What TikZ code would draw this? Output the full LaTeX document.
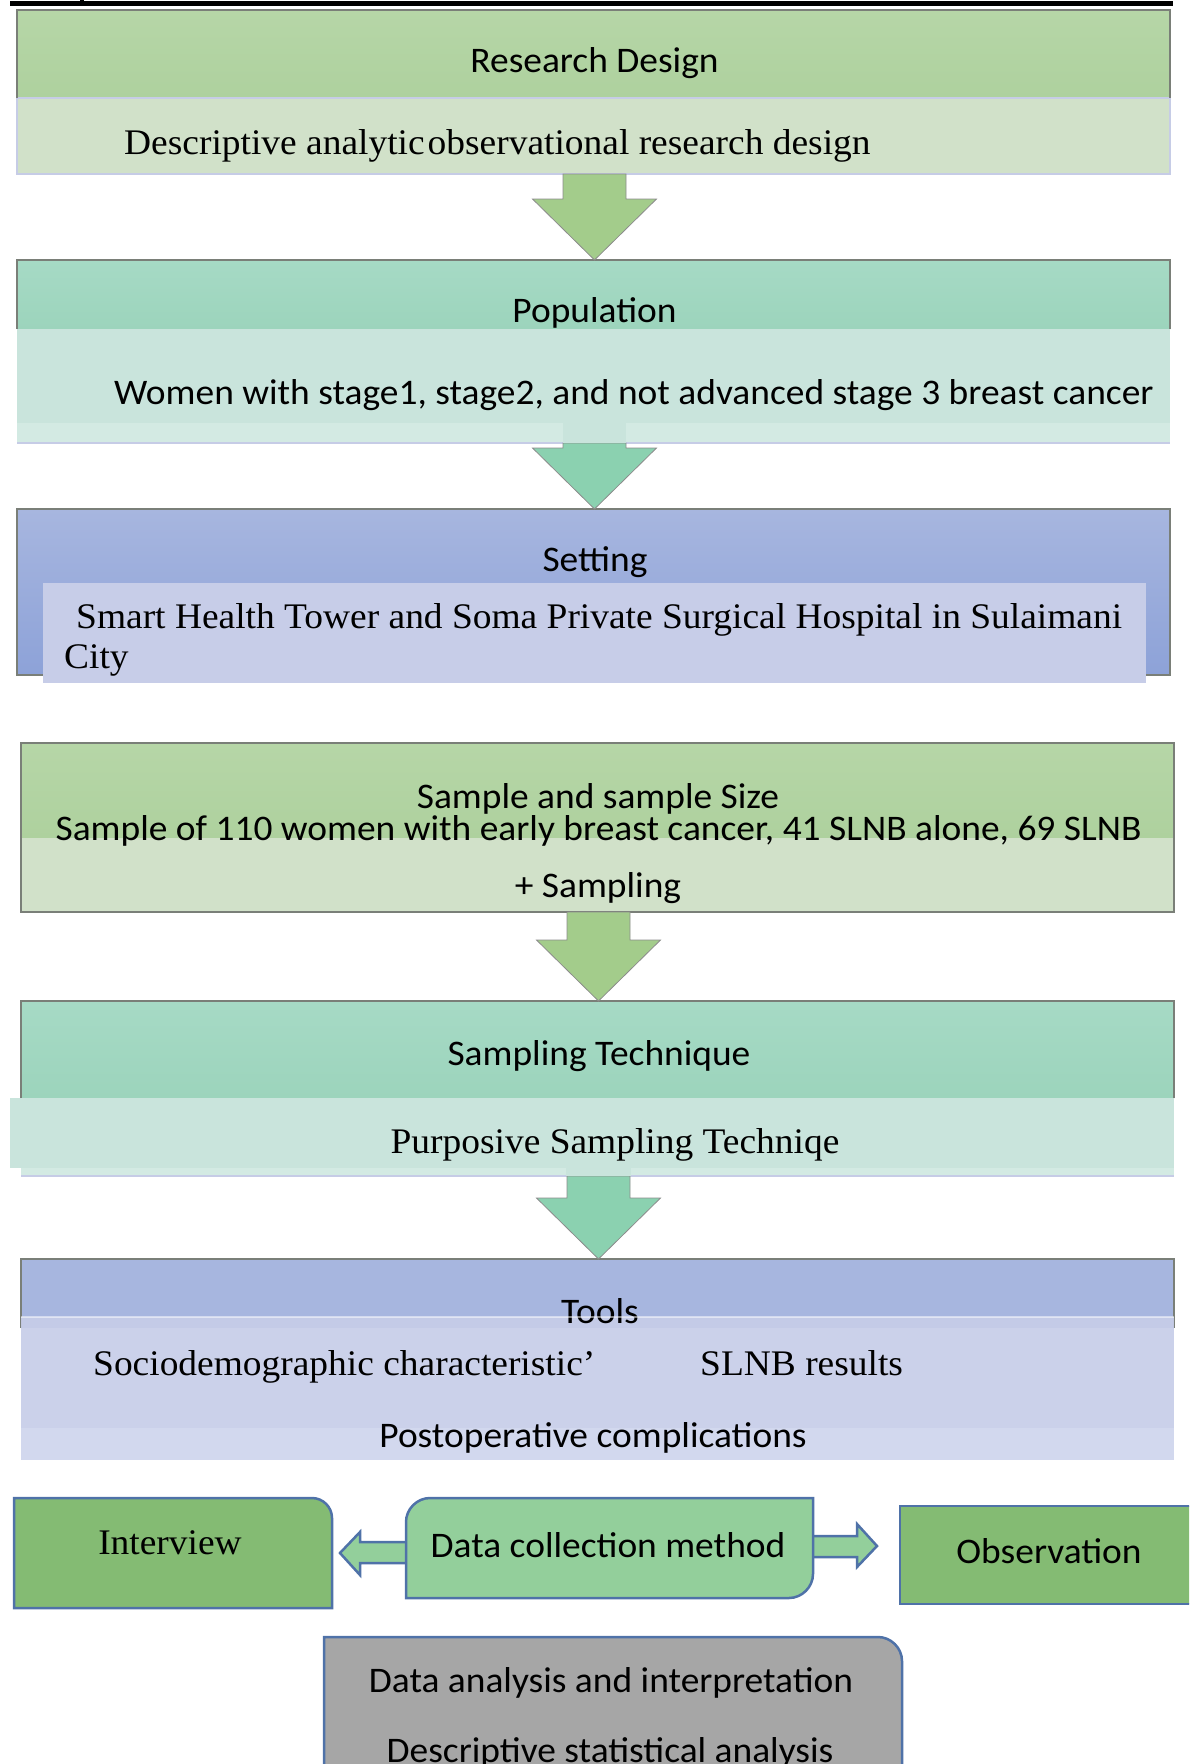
\documentclass[tikz,border=0pt]{standalone}
\usepackage{fontspec}
\setmainfont[FakeStretch=1.04]{Liberation Serif}
\newfontfamily\calfont[FakeStretch=1.04]{Carlito}
\usetikzlibrary{calc}

\definecolor{hdrgreenA}{HTML}{B6D6A7}
\definecolor{hdrgreenB}{HTML}{AED19E}
\definecolor{subgreen}{HTML}{D1E1C9}
\definecolor{arrgreen}{HTML}{A3CC8B}
\definecolor{hdrmintA}{HTML}{A6DAC5}
\definecolor{hdrmintB}{HTML}{9CD4BC}
\definecolor{submint}{HTML}{C9E4DC}
\definecolor{stripmint}{HTML}{D3EAE3}
\definecolor{arrmint}{HTML}{8BD1B0}
\definecolor{hdrblueA}{HTML}{A7B6DF}
\definecolor{hdrblueB}{HTML}{8DA2D8}
\definecolor{sublav}{HTML}{C7CDE8}
\definecolor{striplav}{HTML}{D2D8EE}
\definecolor{edgegray}{HTML}{7A7F78}
\definecolor{edgelav}{HTML}{C6CCE6}
\definecolor{boxgreen}{HTML}{84BB73}
\definecolor{boxlight}{HTML}{93CF9B}
\definecolor{boxgray}{HTML}{A6A6A6}
\definecolor{edgeblue}{HTML}{4F72A8}

% a plain panel given by its top-left corner, width and height
\newcommand\panelbox[6]{%
  \node[panel, minimum width=#4, minimum height=#5, #6] (#1) at (#2,#3) {};}

% a downward block arrow from the bottom of one panel to the top of the next
\newcommand\blockdown[4]{%
  \filldraw[#4, blk] let \p1=(#1.south), \p2=(#2.north) in
    (#3-31.5,\y1) -- (#3+31.5,\y1) -- (#3+31.5,\y2+61pt) -- (#3+62,\y2+61pt)
    -- (#3,\y2) -- (#3-62,\y2+61pt) -- (#3-31.5,\y2+61pt) -- cycle;}

\begin{document}
\begin{tikzpicture}[x=1pt,y=-1pt,
  panel/.style={inner sep=0pt, outer sep=0pt, anchor=north west, draw=none},
  cal/.style={font=\calfont\fontsize{36}{40}\selectfont, inner sep=0pt},
  tms/.style={font=\fontsize{36}{40}\selectfont, inner sep=0pt},
  hedge/.style={draw=edgegray, line width=1.5pt},
  ledge/.style={draw=edgelav, line width=1.5pt},
  bedge/.style={draw=edgeblue, line width=2.5pt},
  blk/.style={draw=black!45, line width=0.8pt},
]
\useasboundingbox (0,0) rectangle (1189,1764);
\clip (0,0) rectangle (1189,1764);

% rule at the head of the page
\fill[black] (10,1) rectangle (1173,6);
\fill[black] (80,0) rectangle (84,4);

% ---------- Research design ----------
\panelbox{rdh}{17}{10}{1153}{88}{top color=hdrgreenA, bottom color=hdrgreenB}
\panelbox{rds}{17}{98}{1153}{76}{fill=subgreen}
\draw[ledge] (rds.north west) rectangle (rds.south east);
\draw[hedge] (rdh.south west) -- (rdh.north west) -- (rdh.north east) -- (rdh.south east);
\node[cal, anchor=base] (trd) at (594.5,72.7) {Research Design};
\node[tms, anchor=base west] (trds) at (124,154) {Descriptive analytic\hspace{3pt}observational research design};

% ---------- Population ----------
\panelbox{poh}{17}{260}{1153}{69}{top color=hdrmintA, bottom color=hdrmintB}
\panelbox{pos}{17}{329}{1153}{94}{fill=submint}
\panelbox{pot}{17}{423}{1153}{20}{fill=stripmint}
\draw[hedge] (poh.south west) -- (poh.north west) -- (poh.north east) -- (poh.south east);
\draw[ledge] (pot.south west) -- (pot.south east);
\node[cal, anchor=base] (tpo) at (594.5,322.7) {Population};
\node[cal, anchor=base west] (tpos) at (114,404) {Women with stage1, stage2, and not advanced stage 3 breast cancer};

% ---------- Setting ----------
\panelbox{seh}{17}{509}{1153}{166}{top color=hdrblueA, bottom color=hdrblueB}
\draw[hedge] (seh.north west) rectangle (seh.south east);
\panelbox{ses}{43}{583}{1103}{100}{fill=sublav}
\node[cal, anchor=base] (tse) at (595,571.7) {Setting};
\node[tms, anchor=base west] (tses) at (76,628) {Smart Health Tower and Soma Private Surgical Hospital in Sulaimani};
\node[tms, anchor=base west] (tses2) at (64,668) {City};

% ---------- Sample and sample size ----------
\panelbox{sah}{21}{743}{1153}{95}{top color=hdrgreenA, bottom color=hdrgreenB}
\panelbox{sas}{21}{838}{1153}{74}{fill=subgreen}
\draw[hedge] (sah.north west) rectangle (sas.south east);
\node[cal, anchor=base] (tsa) at (598,808) {Sample and sample Size};
\node[cal, anchor=base] (tsas) at (598.5,840) {Sample of 110 women with early breast cancer, 41 SLNB alone, 69 SLNB};
\node[cal, anchor=base] (tsas2) at (598,897) {+ Sampling};

% ---------- Sampling technique ----------
\panelbox{sth}{21}{1001}{1153}{97}{top color=hdrmintA, bottom color=hdrmintB}
\panelbox{stt}{21}{1168}{1153}{8}{fill=stripmint}
\panelbox{sts}{10}{1098}{1164}{70}{fill=submint}
\draw[hedge] (sth.south west) -- (sth.north west) -- (sth.north east) -- (sth.south east);
\draw[ledge] (stt.south west) -- (stt.south east);
\node[cal, anchor=base] (tst) at (599,1065) {Sampling Technique};
\node[tms, anchor=base] (tsts) at (615,1153) {Purposive Sampling Techniqe};

% ---------- Tools ----------
\panelbox{toh}{21}{1259}{1153}{69}{fill=hdrblueA}
\draw[hedge] (toh.south west) -- (toh.north west) -- (toh.north east) -- (toh.south east);
\panelbox{tos}{21}{1317}{1153}{111}{fill=sublav, fill opacity=0.92}
\panelbox{tot}{21}{1428}{1153}{32}{fill=striplav}
\node[cal, anchor=base] (tto) at (600,1323) {Tools};
\draw[white, line width=1.2pt, opacity=0.5] (tos.north west) -- (tos.north east);
\node[tms, anchor=base west] (ttoa) at (93,1375) {Sociodemographic characteristic’};
\node[tms, anchor=base west] (ttob) at (700,1375) {SLNB results};
\node[cal, anchor=base] (ttoc) at (593,1447) {Postoperative complications};

% ---------- block arrows between the panels ----------
\blockdown{rds}{poh}{594.5}{arrgreen}
\blockdown{pot}{seh}{594.5}{arrmint}
\fill[submint] (563,423) rectangle (626,443);
\blockdown{sas}{sth}{598.5}{arrgreen}
\blockdown{stt}{toh}{598.5}{arrmint}
\fill[submint] (566,1168) rectangle (631,1176);

% ---------- data collection ----------
\node[panel, minimum width=318, minimum height=110] (intv) at (14,1498) {};
\node[panel, minimum width=407, minimum height=100] (dcm) at (406,1498) {};
\node[panel, minimum width=300, minimum height=98] (obs) at (900,1506) {};
\node[panel, minimum width=578, minimum height=170] (dan) at (324,1637) {};

\filldraw[boxlight, bedge] let \p1=(dcm.west), \p2=(intv.east) in
  (\x1+2pt,1542) -- (\x2+28pt,1542) -- (\x2+28pt,1532) -- (\x2+8pt,1553)
  -- (\x2+28pt,1575) -- (\x2+28pt,1563) -- (\x1+2pt,1563) -- cycle;
\filldraw[boxlight, bedge] let \p1=(dcm.east), \p2=(obs.west) in
  (\x1-2pt,1536) -- (\x2-43pt,1536) -- (\x2-43pt,1524) -- (\x2-23pt,1546)
  -- (\x2-43pt,1567) -- (\x2-43pt,1557) -- (\x1-2pt,1557) -- cycle;

\filldraw[fill=boxgreen, bedge] (intv.south west) -- (intv.north west)
  -- ($(intv.north east)+(-20,0)$) .. controls ($(intv.north east)+(-9,0)$) and ($(intv.north east)+(0,9)$) .. ($(intv.north east)+(0,20)$)
  -- (intv.south east) -- cycle;
\filldraw[fill=boxlight, bedge] (dcm.south west) -- ($(dcm.north west)+(0,24)$)
  .. controls ($(dcm.north west)+(0,11)$) and ($(dcm.north west)+(11,0)$) .. ($(dcm.north west)+(24,0)$)
  -- (dcm.north east) -- ($(dcm.south east)+(0,-24)$)
  .. controls ($(dcm.south east)+(0,-11)$) and ($(dcm.south east)+(-11,0)$) .. ($(dcm.south east)+(-24,0)$)
  -- cycle;
\filldraw[fill=boxgreen, bedge] (obs.north west) rectangle (obs.south east);
\filldraw[fill=boxgray, bedge] (dan.south west) -- (dan.north west)
  -- ($(dan.north east)+(-24,0)$) .. controls ($(dan.north east)+(-11,0)$) and ($(dan.north east)+(0,11)$) .. ($(dan.north east)+(0,24)$)
  -- (dan.south east) -- cycle;

\node[tms, anchor=base] (tintv) at (170,1554) {Interview};
\node[cal, anchor=base] (tdcm) at (608,1557) {Data collection method};
\node[cal, anchor=base] (tobs) at (1049,1563) {Observation};
\node[cal, anchor=base] (tdan) at (611,1692) {Data analysis and interpretation};
\node[cal, anchor=base] (tdan2) at (610,1762) {Descriptive statistical analysis};
\end{tikzpicture}
\end{document}
